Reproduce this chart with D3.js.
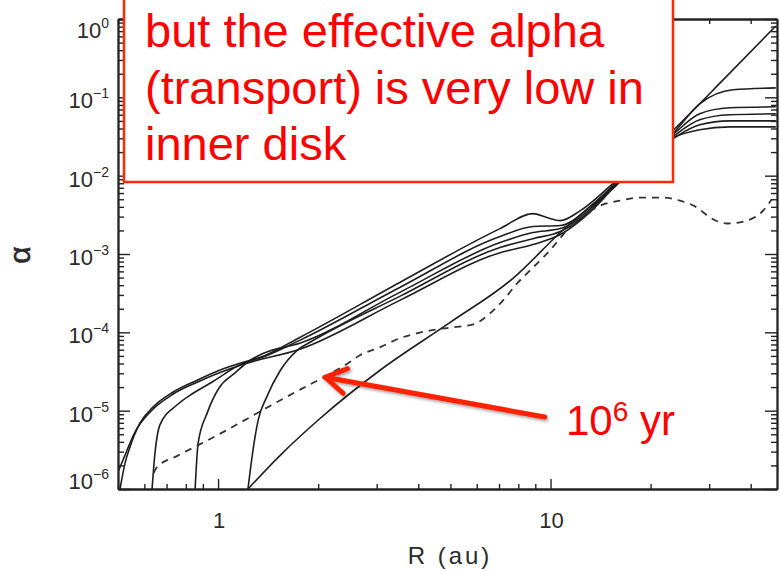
<!DOCTYPE html>
<html>
<head>
<meta charset="utf-8">
<script src="https://cdn.jsdelivr.net/npm/d3@7"></script>
<style>
  body { margin: 0; background: #fff; }
  svg { display: block; }
</style>
</head>
<body>
<svg id="chart" width="780" height="571"></svg>
<script>
// curves, as [R (au), alpha]
const snap1 = [[0.507,1e-6],[0.525,2.14e-6],[0.543,3.42e-6],[0.582,6.93e-6],[0.637,1.11e-5],[0.731,1.72e-5],[0.865,2.45e-5],[1.01,3.28e-5],[1.19,4.15e-5],[1.34,4.8e-5],[1.76,8.6e-5],[3.52,4.33e-4],[7.05,2.11e-3],[8.85,3.28e-3],[9.75,2.92e-3],[10.7,2.67e-3],[12.3,3.58e-3],[15.4,7.9e-3],[23.3,3.43e-2],[28.1,8.26e-2],[35.4,0.125],[47.6,0.132]];
const snap2 = [[0.633,1e-6],[0.646,2.88e-6],[0.668,6.53e-6],[0.752,1.18e-5],[0.841,1.67e-5],[0.946,2.24e-5],[1.19,4.03e-5],[1.36,4.8e-5],[1.76,7.9e-5],[3.52,3.74e-4],[7.05,1.67e-3],[8.85,2.24e-3],[10.7,2.31e-3],[13.1,3.91e-3],[15.4,7.46e-3],[23.3,3.33e-2],[28.1,6.16e-2],[34.6,7.35e-2],[47.6,7.57e-2]];
const snap3 = [[0.853,1e-6],[0.871,3.85e-6],[0.927,9.3e-6],[1.01,1.99e-5],[1.12,3.0e-5],[1.25,4.4e-5],[1.37,5.4e-5],[1.76,7.25e-5],[3.52,3.24e-4],[7.05,1.40e-3],[8.85,1.88e-3],[10.7,2.11e-3],[13.1,3.69e-3],[15.4,7.24e-3],[23.3,3.14e-2],[28.1,5.16e-2],[34.6,5.98e-2],[47.6,6.16e-2]];
const snap4 = [[1.23,1e-6],[1.27,2.88e-6],[1.32,7.57e-6],[1.40,1.49e-5],[1.54,3.28e-5],[1.73,5.9e-5],[1.89,7.46e-5],[3.52,2.88e-4],[7.05,1.21e-3],[8.85,1.57e-3],[10.7,1.94e-3],[13.1,3.48e-3],[15.4,7.03e-3],[23.3,2.96e-2],[28.1,4.47e-2],[34.6,5.0e-2],[47.6,5.0e-2]];
const snap5 = [[0.50,1.65e-6],[0.525,2.71e-6],[0.562,5.3e-6],[0.624,9.57e-6],[0.731,1.62e-5],[0.865,2.31e-5],[1.19,3.91e-5],[1.76,6.07e-5],[3.52,2.56e-4],[7.05,1.04e-3],[8.85,1.32e-3],[10.7,1.77e-3],[13.1,3.38e-3],[15.4,6.8e-3],[23.3,3.05e-2],[28.1,3.86e-2],[34.6,4.2e-2],[47.6,4.2e-2]];
const diagonal = [[1.23,1e-6],[1.54,2.71e-6],[2.03,8.0e-6],[3.07,3.28e-5],[4.99,1.34e-4],[7.71,4.88e-4],[10.7,1.88e-3],[15.4,7.24e-3],[23.3,3.74e-2],[33.5,0.177],[47.6,0.815]];
const dashed = [[0.64,1.6e-6],[0.655,1.9e-6],[0.752,2.63e-6],[0.883,3.74e-6],[1.035,5.32e-6],[1.25,8.3e-6],[1.50,1.28e-5],[1.80,1.94e-5],[2.13,2.83e-5],[2.46,4.03e-5],[2.67,5.1e-5],[3.07,6.44e-5],[3.52,8.4e-5],[3.96,9.7e-5],[4.55,1.09e-4],[5.09,1.16e-4],[5.85,1.26e-4],[6.58,1.75e-4],[7.20,2.56e-4],[7.93,4.2e-4],[8.86,6.73e-4],[9.75,1.01e-3],[11.8,2.52e-3],[14.1,4.15e-3],[16.2,4.8e-3],[18.6,5.25e-3],[21.8,5.25e-3],[24.5,4.8e-3],[27.6,3.91e-3],[30.2,2.92e-3],[34.0,2.45e-3],[39.0,2.67e-3],[43.6,3.58e-3],[46.3,5.0e-3]];

const xMajor = [1, 10];
const xLabels = ['1', '10'];
const yExponents = [-6, -5, -4, -3, -2, -1, 0];
const boxLines = ['but the effective alpha', '(transport) is very low in', 'inner disk'];
const arrowFrom = [9.6, 8.3e-6];
const arrowTo = [2.1, 2.67e-5];

const plot = { left: 118, right: 777, top: 19, bottom: 489 };
const svg = d3.select('#chart');

const x = d3.scaleLog().domain([0.5, 48]).range([plot.left, plot.right]);
const y = d3.scaleLog().domain([1e-6, 1]).range([plot.bottom, plot.top]);

const defs = svg.append('defs');
defs.append('clipPath').attr('id', 'clip')
  .append('rect')
  .attr('x', plot.left).attr('y', plot.top)
  .attr('width', plot.right - plot.left).attr('height', plot.bottom - plot.top);
defs.append('filter').attr('id', 'shadow')
  .attr('x', '-10%').attr('y', '-50%').attr('width', '120%').attr('height', '200%')
  .append('feDropShadow')
  .attr('dx', 1.5).attr('dy', 2).attr('stdDeviation', 1.5)
  .attr('flood-color', '#000').attr('flood-opacity', 0.35);

// Lines
const line = d3.line()
  .x((d) => x(d[0]))
  .y((d) => y(d[1]))
  .curve(d3.curveMonotoneX);

const curves = svg.append('g').attr('clip-path', 'url(#clip)');
[snap1, snap2, snap3, snap4, snap5, diagonal].forEach((s) => {
  curves.append('path')
    .datum(s)
    .attr('fill', 'none')
    .attr('stroke', '#1e1e1e')
    .attr('stroke-width', 1.6)
    .attr('d', line);
});
curves.append('path')
  .datum(dashed)
  .attr('fill', 'none')
  .attr('stroke', '#333')
  .attr('stroke-width', 1.8)
  .attr('stroke-dasharray', '7,6')
  .attr('d', line);

// Axes, ticks pointing inwards on all four sides
const xMinor = x.ticks().filter((v) => !xMajor.includes(v));
const yMajor = yExponents.map((e) => Math.pow(10, e));
const yMinor = y.ticks().filter((v) => !yMajor.some((m) => Math.abs(m - v) / m < 1e-6));

function frame(axisFn, scale, vals, size, transform) {
  svg.append('g')
    .attr('transform', transform)
    .call(axisFn(scale).tickValues(vals).tickSize(size).tickSizeOuter(0).tickFormat(''))
    .call((g) => g.selectAll('line').attr('stroke', '#222').attr('stroke-width', 1.4))
    .call((g) => g.select('.domain').attr('stroke', '#222').attr('stroke-width', 1.8));
}

frame(d3.axisTop, x, xMajor, 10, `translate(0,${plot.bottom})`);
frame(d3.axisTop, x, xMinor, 5, `translate(0,${plot.bottom})`);
frame(d3.axisBottom, x, xMajor, 10, `translate(0,${plot.top})`);
frame(d3.axisBottom, x, xMinor, 5, `translate(0,${plot.top})`);
frame(d3.axisRight, y, yMajor, 12, `translate(${plot.left},0)`);
frame(d3.axisRight, y, yMinor, 6, `translate(${plot.left},0)`);
frame(d3.axisLeft, y, yMajor, 12, `translate(${plot.right},0)`);
frame(d3.axisLeft, y, yMinor, 6, `translate(${plot.right},0)`);

const font = "'Liberation Sans', Arial, Helvetica, sans-serif";

// y tick labels, 10^n
yExponents.forEach((e) => {
  const cy = Math.min(Math.max(y(Math.pow(10, e)) + 3, 30), 481);
  const t = svg.append('text')
    .attr('x', 109)
    .attr('y', cy + 8)
    .attr('text-anchor', 'end')
    .attr('font-family', font)
    .attr('font-size', 22)
    .attr('fill', '#2a2a2a')
    .text('10');
  t.append('tspan')
    .attr('dy', -10)
    .attr('font-size', 14)
    .text(e === 0 ? '0' : '\u2212' + Math.abs(e));
});

// x tick labels
xMajor.forEach((v, i) => {
  svg.append('text')
    .attr('x', x(v) + 1)
    .attr('y', 528)
    .attr('text-anchor', 'middle')
    .attr('font-family', font)
    .attr('font-size', 22)
    .attr('fill', '#2a2a2a')
    .text(xLabels[i]);
});

svg.append('text')
  .attr('x', 450)
  .attr('y', 564)
  .attr('text-anchor', 'middle')
  .attr('font-family', font)
  .attr('font-size', 24)
  .attr('letter-spacing', 3)
  .attr('fill', '#2a2a2a')
  .text('R (au)');

svg.append('text')
  .attr('transform', 'translate(30,255) rotate(-90)')
  .attr('text-anchor', 'middle')
  .attr('font-family', font)
  .attr('font-size', 30)
  .attr('fill', '#2a2a2a')
  .attr('stroke', '#2a2a2a')
  .attr('stroke-width', 0.6)
  .text('\u03b1');

// Red annotation box
svg.append('rect')
  .attr('x', 124)
  .attr('y', -4)
  .attr('width', 549)
  .attr('height', 186)
  .attr('fill', '#fff')
  .attr('stroke', '#ff2a00')
  .attr('stroke-width', 2.5);

boxLines.forEach((s, i) => {
  svg.append('text')
    .attr('x', 145)
    .attr('y', 47 + i * 56.5)
    .attr('font-family', font)
    .attr('font-size', 47)
    .attr('fill', '#ff0000')
    .text(s);
});

// Arrow pointing at the dashed 10^6 yr curve
const tipX = x(arrowTo[0]);
const tipY = y(arrowTo[1]);
const tailX = x(arrowFrom[0]);
const tailY = y(arrowFrom[1]);
const ang = Math.atan2(tailY - tipY, tailX - tipX);
const headLen = 24;
const spread = 0.55;
const arrow = svg.append('g').attr('filter', 'url(#shadow)')
  .attr('stroke', '#ff2200').attr('stroke-width', 5).attr('stroke-linecap', 'round').attr('fill', 'none');
arrow.append('line')
  .attr('x1', tailX).attr('y1', tailY).attr('x2', tipX).attr('y2', tipY);
arrow.append('path')
  .attr('stroke-linejoin', 'round')
  .attr('d', `M${tipX + headLen * Math.cos(ang - spread)},${tipY + headLen * Math.sin(ang - spread)}` +
    `L${tipX},${tipY}` +
    `L${tipX + headLen * Math.cos(ang + spread)},${tipY + headLen * Math.sin(ang + spread)}`);

const lab = svg.append('text')
  .attr('x', 566)
  .attr('y', 435)
  .attr('font-family', font)
  .attr('font-size', 42)
  .attr('fill', '#ff0000')
  .text('10');
lab.append('tspan').attr('dy', -14).attr('font-size', 28).text('6');
lab.append('tspan').attr('dy', 14).attr('font-size', 42).text(' yr');
</script>
</body>
</html>
